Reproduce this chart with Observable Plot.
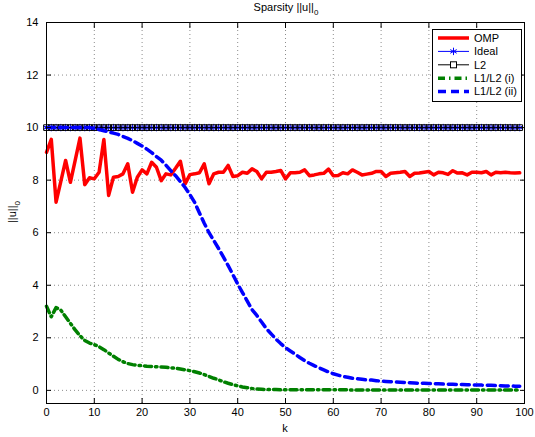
<!DOCTYPE html>
<html><head><meta charset="utf-8">
<script src="https://cdn.jsdelivr.net/npm/d3@7"></script>
<script src="https://cdn.jsdelivr.net/npm/@observablehq/plot@0.6"></script>
<style>body{margin:0;background:#fff} #chart{width:535px;height:437px}</style>
</head><body><div id="chart"></div>
<script>
const kValues = d3.range(100);
const ompValues = [
 9.06,9.55,7.16,7.95,8.75,7.92,8.75,9.60,7.83,8.09,
 8.05,8.30,9.55,7.42,8.11,8.14,8.24,8.62,7.54,8.11,
 8.39,8.24,8.68,8.49,7.98,8.24,8.20,8.45,8.72,7.86,
 8.21,8.24,8.28,8.62,7.86,8.24,8.30,8.30,8.56,8.14,
 8.17,8.30,8.26,8.43,8.33,8.05,8.30,8.30,8.33,8.37,
 8.05,8.28,8.28,8.30,8.39,8.17,8.20,8.24,8.26,8.42,
 8.17,8.18,8.28,8.24,8.39,8.30,8.20,8.23,8.26,8.33,
 8.33,8.14,8.26,8.28,8.30,8.33,8.14,8.26,8.27,8.30,
 8.33,8.20,8.30,8.28,8.22,8.36,8.27,8.28,8.20,8.30,
 8.30,8.28,8.33,8.20,8.30,8.28,8.30,8.28,8.27,8.28];
const idealValues = [
 10,10,10,10,10,10,10,10,10,10,10,10,10,10,10,10,10,10,10,10,
 10,10,10,10,10,10,10,10,10,10,10,10,10,10,10,10,10,10,10,10,
 10,10,10,10,10,10,10,10,10,10,10,10,10,10,10,10,10,10,10,10,
 10,10,10,10,10,10,10,10,10,10,10,10,10,10,10,10,10,10,10,10,
 10,10,10,10,10,10,10,10,10,10,10,10,10,10,10,10,10,10,10,10];
const l2Values = [
 10,10,10,10,10,10,10,10,10,10,10,10,10,10,10,10,10,10,10,10,
 10,10,10,10,10,10,10,10,10,10,10,10,10,10,10,10,10,10,10,10,
 10,10,10,10,10,10,10,10,10,10,10,10,10,10,10,10,10,10,10,10,
 10,10,10,10,10,10,10,10,10,10,10,10,10,10,10,10,10,10,10,10,
 10,10,10,10,10,10,10,10,10,10,10,10,10,10,10,10,10,10,10,10];
const l1l2iValues = [
 3.20,2.80,3.15,3.05,2.80,2.55,2.30,2.08,1.90,1.80,
 1.74,1.66,1.55,1.42,1.30,1.18,1.09,1.02,0.98,0.95,
 0.94,0.92,0.91,0.90,0.89,0.88,0.86,0.84,0.81,0.78,
 0.75,0.71,0.66,0.60,0.53,0.46,0.40,0.33,0.27,0.22,
 0.17,0.13,0.10,0.07,0.05,0.04,0.03,0.03,0.03,0.02,
 0.02,0.02,0.02,0.02,0.02,0.02,0.02,0.02,0.02,0.02,
 0.02,0.02,0.02,0.02,0.01,0.01,0.01,0.01,0.01,0.01,
 0.01,0.01,0.01,0.01,0.01,0.01,0.01,0.01,0.01,0.01,
 0.01,0.01,0.01,0.01,0.01,0.01,0.01,0.01,0.01,0.01,
 0.01,0.01,0.01,0.01,0.01,0.01,0.01,0.01,0.01,0.01];
const l1l2iiValues = [
 10.0,10.0,10.0,10.0,10.0,10.0,10.0,10.0,10.0,10.0,
 9.97,9.93,9.88,9.84,9.79,9.74,9.66,9.59,9.50,9.40,
 9.30,9.18,9.05,8.90,8.76,8.57,8.36,8.17,7.95,7.72,
 7.45,7.15,6.75,6.36,6.00,5.70,5.40,5.08,4.75,4.40,
 4.05,3.72,3.40,3.07,2.85,2.60,2.35,2.15,1.95,1.78,
 1.62,1.50,1.38,1.25,1.13,1.03,0.94,0.86,0.78,0.70,
 0.63,0.58,0.53,0.50,0.46,0.44,0.42,0.40,0.39,0.37,
 0.35,0.34,0.33,0.32,0.31,0.30,0.29,0.28,0.27,0.27,
 0.26,0.25,0.25,0.24,0.23,0.23,0.22,0.22,0.21,0.21,
 0.20,0.20,0.19,0.19,0.18,0.18,0.17,0.17,0.16,0.16];
const xTicks = [0,10,20,30,40,50,60,70,80,90,100];
const yTicks = [0,2,4,6,8,10,12,14];
const seriesNames = ["OMP","Ideal","L2","L1/L2 (i)","L1/L2 (ii)"];
const seriesColors = ["#ff0000","#0000ff","#000000","#008000","#0000ff"];

const mk = vals => kValues.map((k, i) => ({k, v: vals[i]}));
const omp = mk(ompValues), ideal = mk(idealValues), l2 = mk(l2Values),
      l1i = mk(l1l2iValues), l1ii = mk(l1l2iiValues);

const font = "'Liberation Sans', Arial, Helvetica, sans-serif";
const plot = Plot.plot({
  width: 535, height: 437,
  marginLeft: 46, marginRight: 11, marginTop: 22, marginBottom: 34,
  style: {fontFamily: font, fontSize: "11px", background: "white", color: "black"},
  x: {domain: [0, 100], label: null},
  y: {domain: [-0.5, 14], label: null},
  marks: [
    Plot.gridX(xTicks, {stroke: "#000", strokeOpacity: 0.45, strokeDasharray: "1,3"}),
    Plot.gridY(yTicks, {stroke: "#000", strokeOpacity: 0.45, strokeDasharray: "1,3"}),
    Plot.line(omp, {x: "k", y: "v", stroke: seriesColors[0], strokeWidth: 3.5}),
    Plot.line(ideal, {x: "k", y: "v", stroke: seriesColors[1], strokeWidth: 1}),
    Plot.dot(ideal, {x: "k", y: "v", symbol: "asterisk", r: 3.5, stroke: seriesColors[1], strokeWidth: 1}),
    Plot.line(l2, {x: "k", y: "v", stroke: seriesColors[2], strokeWidth: 1}),
    Plot.dot(l2, {x: "k", y: "v", symbol: "square", r: 3.2, stroke: seriesColors[2], fill: "none", strokeWidth: 1}),
    Plot.line(l1i, {x: "k", y: "v", stroke: seriesColors[3], strokeWidth: 3.5, strokeDasharray: "7,4,1.5,4"}),
    Plot.line(l1ii, {x: "k", y: "v", stroke: seriesColors[4], strokeWidth: 3.5, strokeDasharray: "8,5"}),
    Plot.frame({stroke: "black", strokeWidth: 1}),
    Plot.axisX(xTicks, {anchor: "bottom", tickSize: -5, tickPadding: 10, label: null}),
    Plot.axisX(xTicks, {anchor: "top", tickSize: -5, fill: "none", label: null}),
    Plot.axisY(yTicks, {anchor: "left", tickSize: -5, tickPadding: 13, label: null}),
    Plot.axisY(yTicks, {anchor: "right", tickSize: -5, fill: "none", label: null})
  ]
});
document.getElementById("chart").append(plot);

const svg = d3.select(plot);
// title
const t = svg.append("text").attr("x", 286).attr("y", 11).attr("text-anchor", "middle")
  .attr("font-family", font).attr("font-size", 11).attr("fill", "black");
t.append("tspan").text("Sparsity ||u||");
t.append("tspan").attr("font-size", 8).attr("dy", 4).text("0");
// y label
const yl = svg.append("text").attr("transform", "translate(16,212) rotate(-90)").attr("text-anchor", "middle")
  .attr("font-family", font).attr("font-size", 11).attr("fill", "black");
yl.append("tspan").text("||u||");
yl.append("tspan").attr("font-size", 8).attr("dy", 4).text("0");
// x label
svg.append("text").attr("x", 285).attr("y", 432).attr("text-anchor", "middle")
  .attr("font-family", font).attr("font-size", 11).attr("fill", "black").text("k");

// legend
const lg = svg.append("g");
lg.append("rect").attr("x", 432.5).attr("y", 29.5).attr("width", 89).attr("height", 72)
  .attr("fill", "white").attr("stroke", "black").attr("stroke-width", 1);
const styles = [
  {w: 3.5, dash: null},
  {w: 1, dash: null, sym: "asterisk"},
  {w: 1, dash: null, sym: "square"},
  {w: 3.5, dash: "7,4,1.5,4"},
  {w: 3.5, dash: "8,5"}
];
seriesNames.forEach((name, i) => {
  const y = 38 + i * 13.4;
  const s = styles[i];
  const ln = lg.append("line").attr("x1", 438).attr("x2", 469).attr("y1", y).attr("y2", y)
    .attr("stroke", seriesColors[i]).attr("stroke-width", s.w);
  if (s.dash) ln.attr("stroke-dasharray", s.dash);
  if (s.sym === "asterisk") {
    lg.append("path").attr("d", d3.symbol(d3.symbolAsterisk, 38)()).attr("transform", `translate(453.5,${y})`)
      .attr("stroke", seriesColors[i]).attr("fill", "none");
  } else if (s.sym === "square") {
    lg.append("rect").attr("x", 450.5).attr("y", y - 3).attr("width", 6).attr("height", 6)
      .attr("stroke", seriesColors[i]).attr("fill", "white");
  }
  lg.append("text").attr("x", 474).attr("y", y).attr("dy", "0.35em").attr("text-anchor", "start")
    .attr("font-family", font).attr("font-size", 11).attr("fill", "black").text(name);
});
</script></body></html>
